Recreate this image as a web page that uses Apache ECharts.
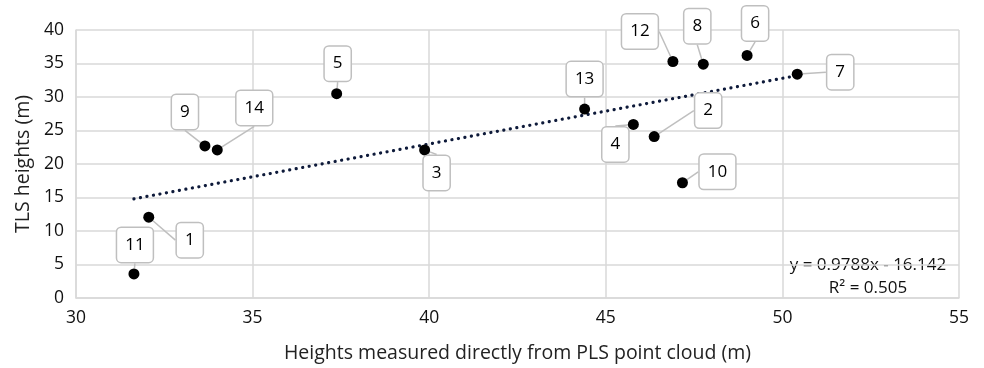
<!DOCTYPE html>
<html><head><meta charset="utf-8">
<script src="https://cdn.jsdelivr.net/npm/echarts@6/dist/echarts.min.js"></script>
<style>html,body{margin:0;padding:0;background:#fff}#c{width:984px;height:368px}</style>
</head><body><div id="c"></div>
<script>
const pointNames = ['1','2','3','4','5','6','7','8','9','10','11','12','13','14'];
const xValues = [32.06, 46.37, 39.87, 45.78, 37.38, 49.0, 50.42, 47.76, 33.65, 47.17, 31.64, 46.9, 44.4, 34.0];
const yValues = [12.07, 24.1, 22.1, 25.9, 30.5, 36.2, 33.4, 34.9, 22.7, 17.2, 3.6, 35.3, 28.2, 22.1];
const trendX = [31.64, 50.42];
const trendY = [14.8, 33.2];
const xTicks = [30, 35, 40, 45, 50, 55];
const yTicks = [0, 5, 10, 15, 20, 25, 30, 35, 40];
const equationText = 'y = 0.9788x - 16.142';
const r2Text = 'R² = 0.505';
const labelOffsets = [[41,23],[54,-26],[12,23],[-18,20],[1,-30],[8,-32],[43,-2],[-6,-38],[-20,-34],[35,-11],[1,-29],[-33,-30],[0,-30],[37,-42]];

const FONT = 'Open Sans';
const chart = echarts.init(document.getElementById('c'));
const gridColor = '#d9d9d9';
chart.setOption({
  animation: false,
  grid: {left: 76, right: 25, top: 30, bottom: 63},
  xAxis: {
    type: 'value', min: xTicks[0], max: xTicks[xTicks.length-1], interval: 5,
    name: 'Heights measured directly from PLS point cloud (m)', nameLocation: 'middle', nameGap: 45,
    nameTextStyle: {fontFamily: FONT, fontSize: 19.5, color: '#222'},
    axisLine: {lineStyle: {color: gridColor, width: 1.5}}, axisTick: {show: false},
    axisLabel: {fontFamily: FONT, fontSize: 17.5, color: '#111', margin: 11},
    splitLine: {show: true, lineStyle: {color: gridColor, width: 1.5}}
  },
  yAxis: {
    type: 'value', min: yTicks[0], max: yTicks[yTicks.length-1], interval: 5,
    name: 'TLS heights (m)', nameLocation: 'middle', nameGap: 42,
    nameTextStyle: {fontFamily: FONT, fontSize: 19.5, color: '#222'},
    axisLine: {show: true, lineStyle: {color: gridColor, width: 1.5}}, axisTick: {show: false},
    axisLabel: {fontFamily: FONT, fontSize: 17.5, color: '#111', margin: 12},
    splitLine: {show: true, lineStyle: {color: gridColor, width: 1.5}}
  },
  graphic: [
    {type: 'text', x: 868, y: 265, style: {text: equationText, fontFamily: FONT, fontSize: 17, fill: '#111', align: 'center', verticalAlign: 'middle'}},
    {type: 'text', x: 868, y: 288, style: {text: r2Text, fontFamily: FONT, fontSize: 17, fill: '#111', align: 'center', verticalAlign: 'middle'}}
  ],
  series: [
    {
      type: 'line', data: trendX.map((x, i) => [x, trendY[i]]), symbol: 'none', silent: true,
      lineStyle: {color: '#0e1a3a', width: 3.2, type: [0.1, 6.5], cap: 'round'}, z: 3
    },
    {
      type: 'scatter', symbolSize: 11, z: 4,
      itemStyle: {color: '#000', opacity: 1},
      data: xValues.map((x, i) => ({name: pointNames[i], value: [x, yValues[i]]})),
      label: {
        show: true, position: 'inside', formatter: p => p.name,
        fontFamily: FONT, fontSize: 17, color: '#000', lineHeight: 20,
        backgroundColor: '#fff', borderColor: '#bfbfbf', borderWidth: 1.5, borderRadius: 4,
        padding: [7, 8]
      },
      labelLine: {show: true, lineStyle: {color: '#bfbfbf', width: 1.5}},
      labelLayout: p => ({dx: labelOffsets[p.dataIndex][0], dy: labelOffsets[p.dataIndex][1]})
    }
  ]
});
</script></body></html>
